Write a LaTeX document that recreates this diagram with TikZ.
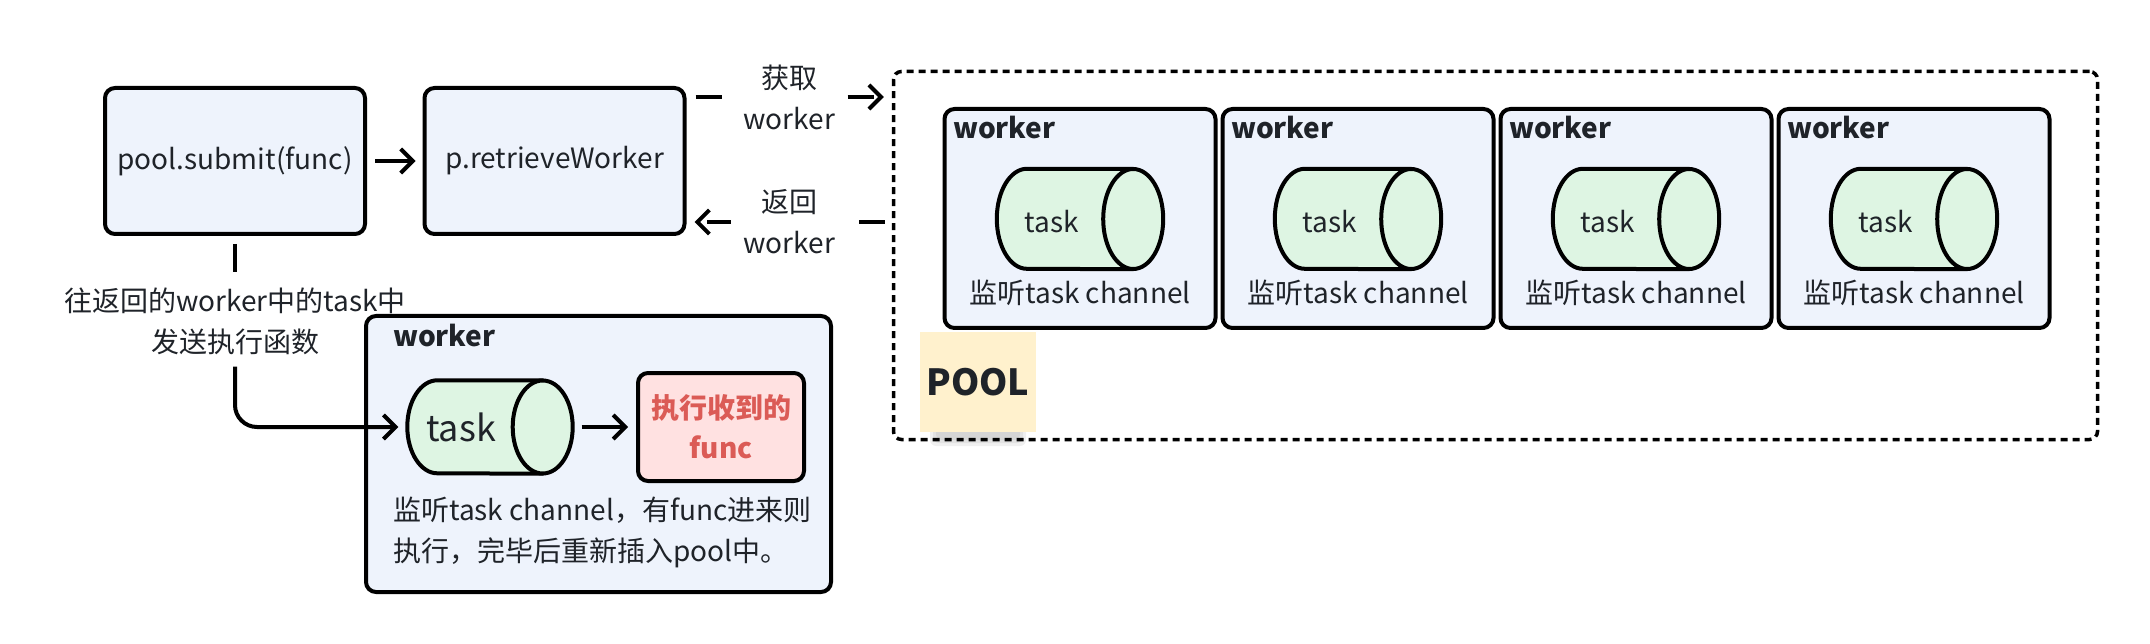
\documentclass[tikz,border=0pt]{standalone}
\usepackage{fontspec}
\setmainfont{Noto Sans CJK SC}
\usetikzlibrary{arrows.meta}

\definecolor{boxblue}{HTML}{EEF3FC}
\definecolor{taskgreen}{HTML}{DEF5E3}
\definecolor{runred}{HTML}{FFE1E1}
\definecolor{runtext}{HTML}{DB5B56}
\definecolor{noteyellow}{HTML}{FFF1CD}
\definecolor{ink}{HTML}{1F2329}

\tikzset{
  txt/.style={font=\fontsize{28}{41}\selectfont, text=ink, inner sep=0pt},
  boldtxt/.style={txt, font=\fontsize{28}{41}\selectfont\bfseries},
  callbox/.style={draw=black, line width=4pt, fill=boxblue, rounded corners=10pt,
    minimum width=260pt, minimum height=146pt, font=\fontsize{28}{41}\selectfont, text=ink},
  workerbox/.style={draw=black, line width=4pt, fill=boxblue, rounded corners=10pt},
  cylspot/.style={inner sep=0pt},
  cylline/.style={draw=black, line width=4pt, fill=taskgreen, line join=round},
  runbox/.style={draw=black, line width=4pt, fill=runred, rounded corners=10pt,
    minimum width=166pt, minimum height=108pt, align=center, text=runtext,
    font=\fontsize{28}{40}\selectfont\bfseries},
  pooldots/.style={draw=black, line width=3.5pt, dash pattern=on 7pt off 5pt, rounded corners=8pt},
  note/.style={fill=noteyellow, minimum width=116pt, minimum height=100pt, text=ink,
    font=\fontsize{36}{40}\selectfont\bfseries},
  noteshadow/.style={fill=black, opacity=0.06, rounded corners=6pt},
  getlabel/.style={txt, fill=white, align=center, inner xsep=12pt, inner ysep=4pt},
  link/.style={line width=4pt, ->},
}

\begin{document}
\begin{tikzpicture}[x=1pt, y=-1pt, >={Straight Barb[length=12pt,width=24pt]}]
\useasboundingbox (0,0) rectangle (2150,644);

% CALL CHAIN
  \node[callbox] (submit) at (235,161) {pool.submit(func)};
  \node[callbox] (rw) at (554.5,161) {p.retrieveWorker};
  \draw[link, shorten <=8pt, shorten >=7pt] (submit) -- (rw);

% POOL
  \node[pooldots, minimum width=1204pt, minimum height=368pt] (pool) at (1495.5,255.5) {};
  \foreach \i/\cx in {1/1080, 2/1358, 3/1636, 4/1914} {
    \node[workerbox, minimum width=271pt, minimum height=219pt] (w\i) at (\cx,218.5) {};
    \node[boldtxt, anchor=west] (wt\i) at (\cx-127,128) {worker};
    \node[cylspot, minimum width=166pt, minimum height=100pt] (c\i) at (\cx,219) {};
    \filldraw[cylline] ([xshift=-30pt]c\i.north east) -- ([xshift=30pt]c\i.north west)
      arc[start angle=90, end angle=270, x radius=30pt, y radius=50pt] -- ([xshift=-30pt]c\i.south east) -- cycle;
    \filldraw[cylline] ([xshift=-30pt]c\i.east) ellipse[x radius=30pt, y radius=50pt];
    \node[txt] (ct\i) at (\cx-28,222) {task};
    \node[txt] (ch\i) at (\cx,293) {监听task channel};
  }
  % shadow under the POOL tag
  \foreach \d in {0,3,6}
    \fill[noteshadow] (930+\d,400) rectangle (1026-\d,446-\d);
  \node[note] (tag) at (978,382) {POOL};

% FETCH AND RETURN
  \coordinate (getA) at ([yshift=64pt]rw.east);
  \coordinate (backA) at ([yshift=-61pt]rw.east);
  \draw[link, dash pattern=on 26pt off 12pt, shorten <=9pt, shorten >=8pt]
    (getA) -- (getA -| pool.west) node[midway, getlabel] (getlbl) {获取\\worker};
  \draw[link, dash pattern=on 26pt off 12pt, shorten <=7pt, shorten >=8pt]
    (backA -| pool.west) -- (backA) node[midway, getlabel] (backlbl) {返回\\worker};

% WORKER IN USE
  \node[workerbox, minimum width=465pt, minimum height=276pt] (bw) at (598.5,454) {};
  \node[boldtxt, anchor=west] (bwt) at (393,336) {worker};
  \node[cylspot, minimum width=165pt, minimum height=93pt] (bigtask) at (490,427) {};
  \filldraw[cylline] ([xshift=-30pt]bigtask.north east) -- ([xshift=30pt]bigtask.north west)
    arc[start angle=90, end angle=270, x radius=30pt, y radius=46.5pt] -- ([xshift=-30pt]bigtask.south east) -- cycle;
  \filldraw[cylline] ([xshift=-30pt]bigtask.east) ellipse[x radius=30pt, y radius=46.5pt];
  \node[txt, font=\fontsize{36}{40}\selectfont] (bigtasktxt) at (461,427) {task};
  \node[runbox] (run) at (721,427) {执行收到的\\func};
  \draw[link, shorten <=9pt, shorten >=8pt] (bigtask) -- (run);
  \node[txt, anchor=west, align=left] (desc) at (393,532) {监听task channel，有func进来则\\执行，完毕后重新插入pool中。};

% SEND
  \node[txt, align=center] (sendlbl) at (235,321) {往返回的worker中的task中\\发送执行函数};
  \draw[line width=4pt, shorten <=8pt, shorten >=15pt] (submit) -- (sendlbl);
  \draw[link, rounded corners=22pt, shorten <=12pt, shorten >=9pt]
    (sendlbl.south) |- (bigtask.west);
\end{tikzpicture}
\end{document}
